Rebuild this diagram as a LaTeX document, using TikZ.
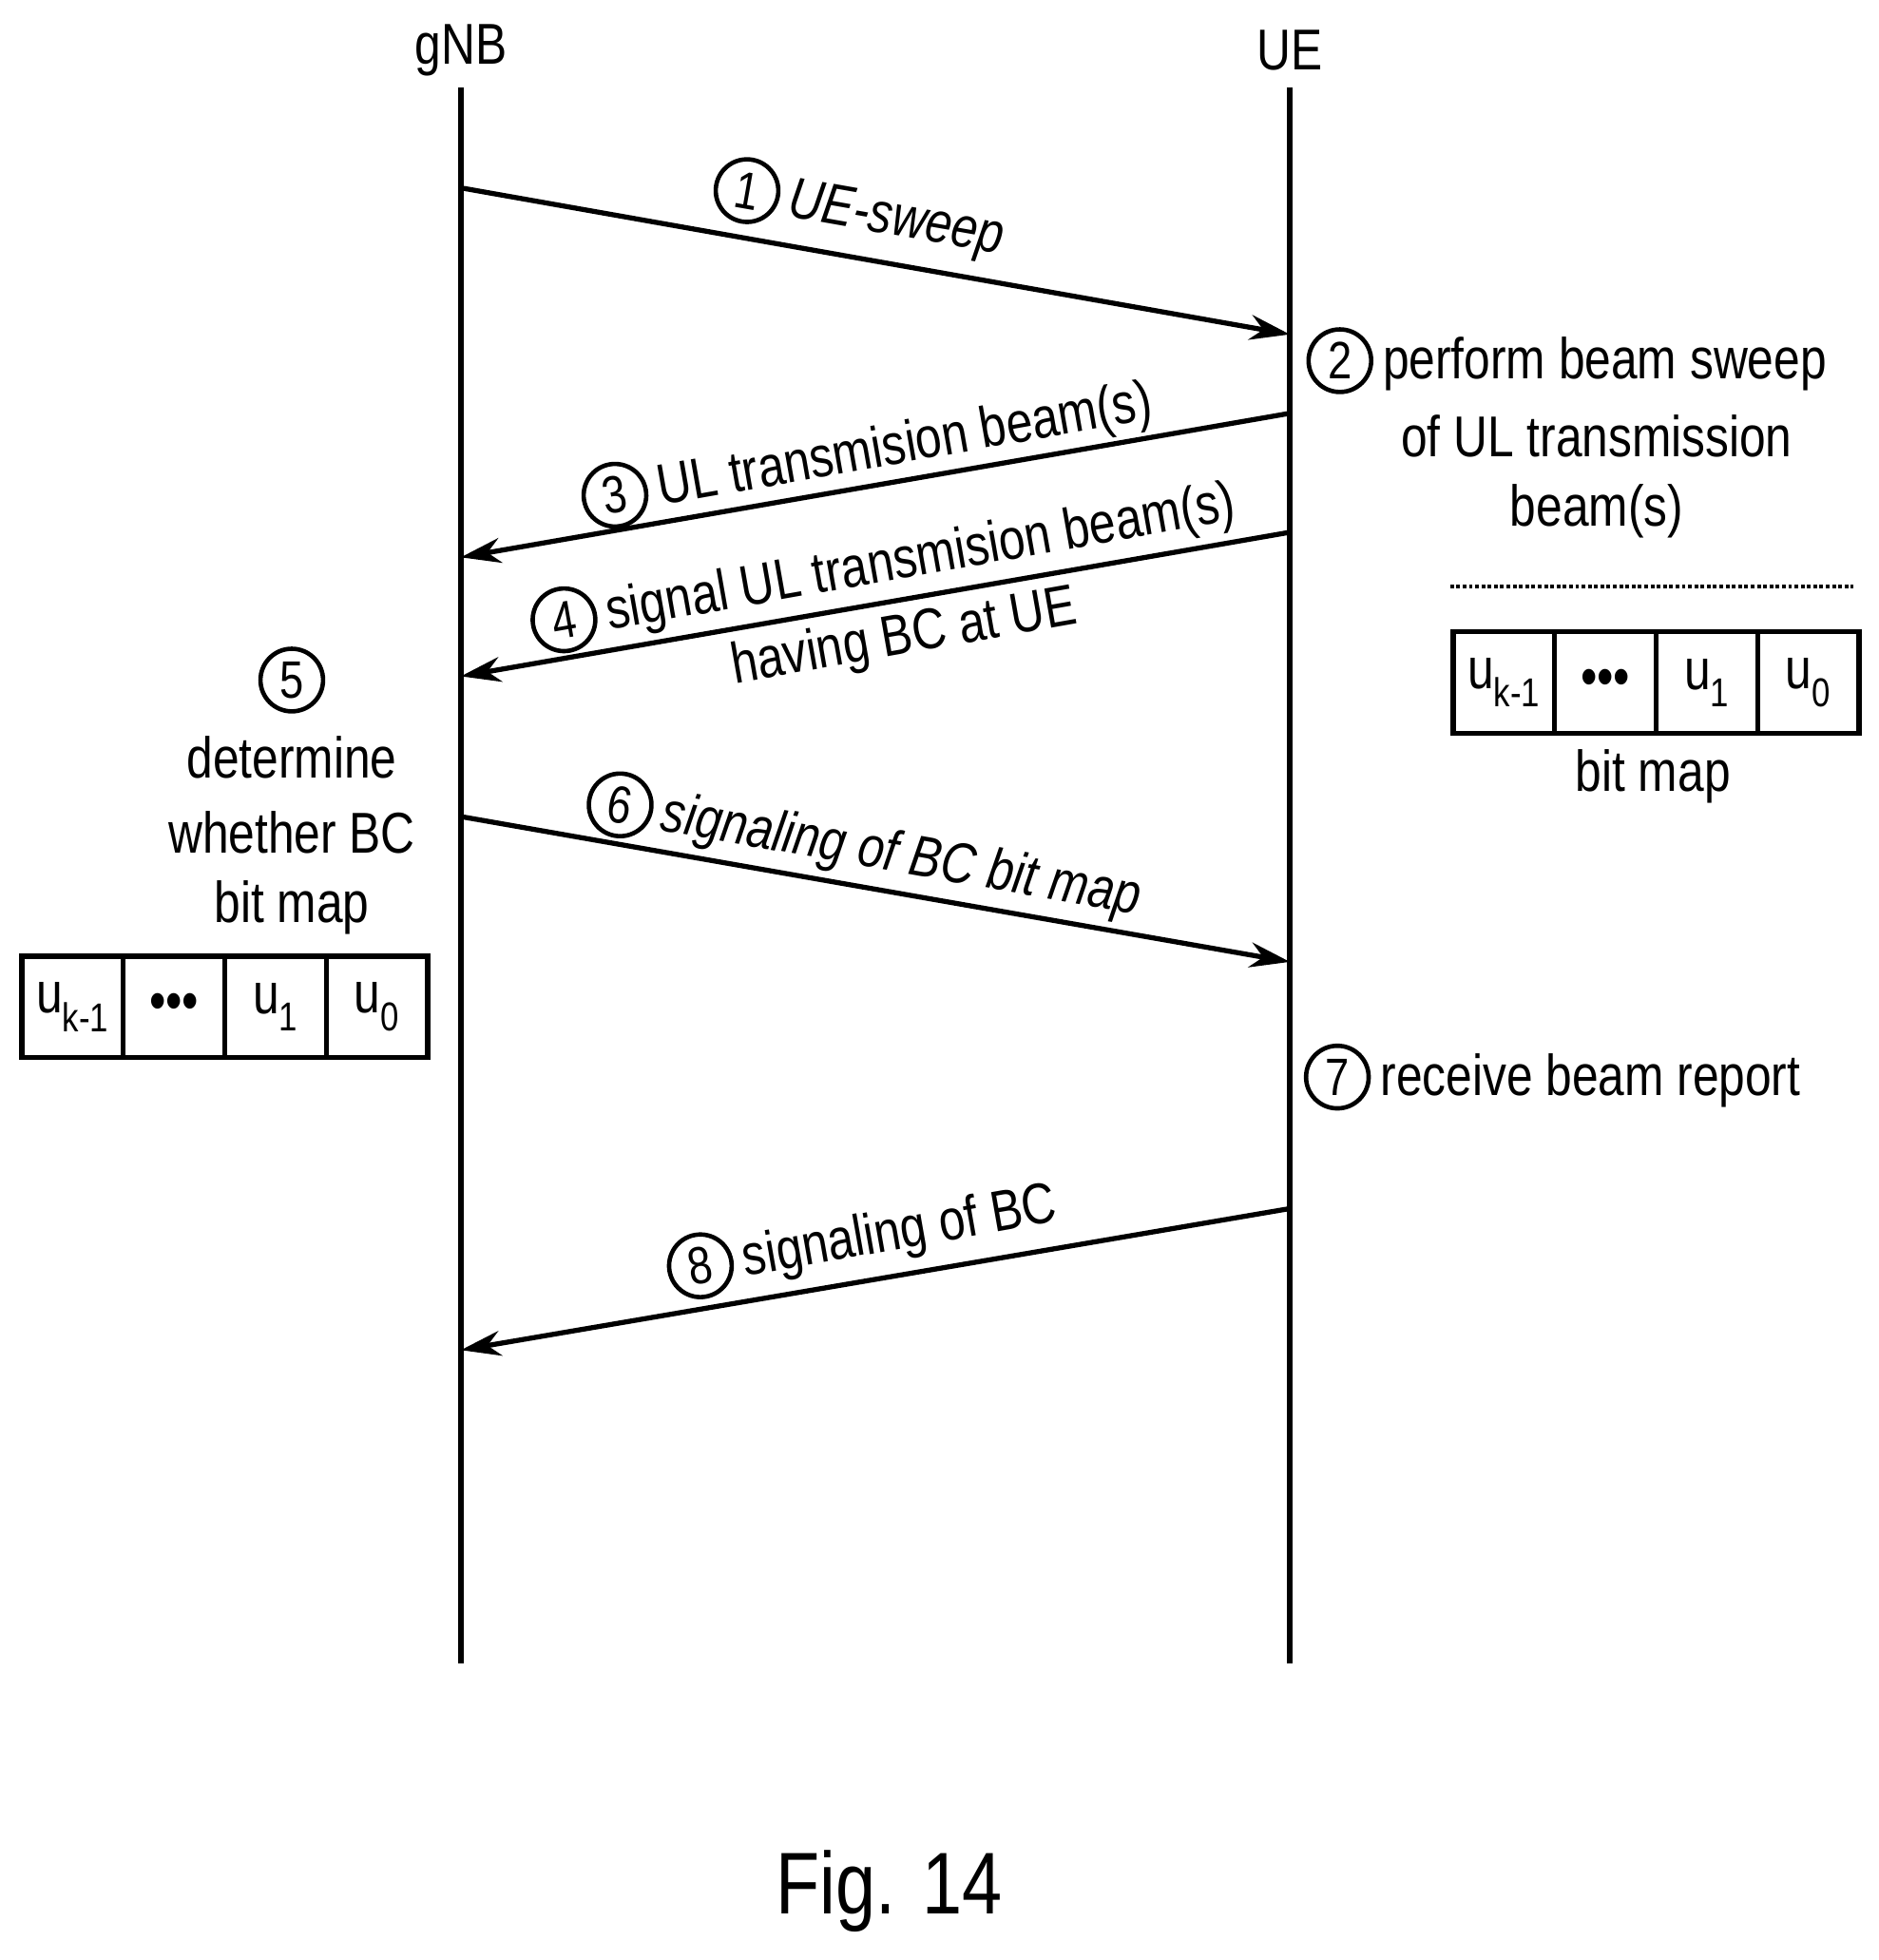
\documentclass[tikz,border=0pt]{standalone}
\usepackage{fontspec}
\setmainfont[FakeStretch=0.82]{Liberation Sans}
\usetikzlibrary{arrows.meta}
\newcommand{\cn}[1]{\tikz[baseline=(c.base)]\node[circle,draw,line width=3.5pt,inner sep=0pt,minimum size=50pt,font=\fontsize{42}{42}\selectfont](c){#1};}
\begin{document}
\begin{tikzpicture}[x=1pt,y=-1pt,
  life/.style={line width=4pt},
  msg/.style={line width=4pt,-{Stealth[length=32pt,width=20pt]}},
  txt/.style={font=\fontsize{46}{52}\selectfont,inner sep=0pt},
  cell/.style={draw,line width=4pt,minimum width=81pt,minimum height=81pt,inner sep=0pt,font=\fontsize{46}{46}\selectfont}]
\useasboundingbox (0,0) rectangle (1500,1565);
\node[txt] (gnb) at (368,40) {gNB};
\node[txt] (ue) at (1030,40) {UE};
\coordinate (gt) at (368,70); \coordinate (gb) at (368,1328);
\coordinate (ut) at (1030,70); \coordinate (ub) at (1030,1328);
\draw[life] (gt)--(gb); \draw[life] (ut)--(ub);
\coordinate (g1) at (368,150); \coordinate (u1) at (1030,267);
\coordinate (u3) at (1030,330); \coordinate (g3) at (368,445);
\coordinate (u4) at (1030,425); \coordinate (g4) at (368,540);
\coordinate (g6) at (368,652); \coordinate (u6) at (1030,768);
\coordinate (u8) at (1030,965); \coordinate (g8) at (368,1078);
\draw[msg] (g1)--(u1); \draw[msg] (u3)--(g3); \draw[msg] (u4)--(g4);
\draw[msg] (g6)--(u6); \draw[msg] (u8)--(g8);
\node[txt,rotate=-10] (l1) at (686,168) {\cn{1}\,\textit{UE-sweep}};
\node[txt,rotate=10] (l3) at (692,360) {\cn{3}\,UL transmision beam(s)};
\node[txt,rotate=10] (l4) at (705,450) {\cn{4}\,signal UL transmision beam(s)};
\node[txt,rotate=10] (l4b) at (722,510) {having BC at UE};
\node[txt,rotate=-10] (l6) at (690,677) {\cn{6}\,\textit{signaling of BC bit map}};
\node[txt,rotate=10] (l8) at (688,988) {\cn{8}\,signaling of BC};
\node[txt,anchor=west] (s2) at (1043,288) {\cn{2}\,perform beam sweep};
\node[txt] (s2b) at (1275,348) {of UL transmission};
\node[txt] (s2c) at (1275,408) {beam(s)};
\coordinate (d1) at (1158,468); \coordinate (d2) at (1480,468);
\draw[line width=3pt,dotted] (d1)--(d2);
\foreach \n/\t [count=\i from 0] in {a/u\textsubscript{k-1},b/\textbullet\textbullet\textbullet,c/u\textsubscript{1},d/u\textsubscript{0}}{
  \node[cell] (r\n) at (1201+81*\i,545) {\t};
  \node[cell] (l\n) at (58+81*\i,804) {\t};
}
\node[txt] (bm) at (1320,620) {bit map};
\node[txt] (c5) at (233,543) {\cn{5}};
\node[txt] (s5a) at (233,605) {determine};
\node[txt] (s5b) at (233,665) {whether BC};
\node[txt] (s5c) at (233,725) {bit map};
\node[txt,anchor=west] (s7) at (1041,860) {\cn{7}\,receive beam report};
\node[txt,font=\fontsize{70}{70}\selectfont] (fig) at (710,1510) {Fig. 14};
\end{tikzpicture}
\end{document}
